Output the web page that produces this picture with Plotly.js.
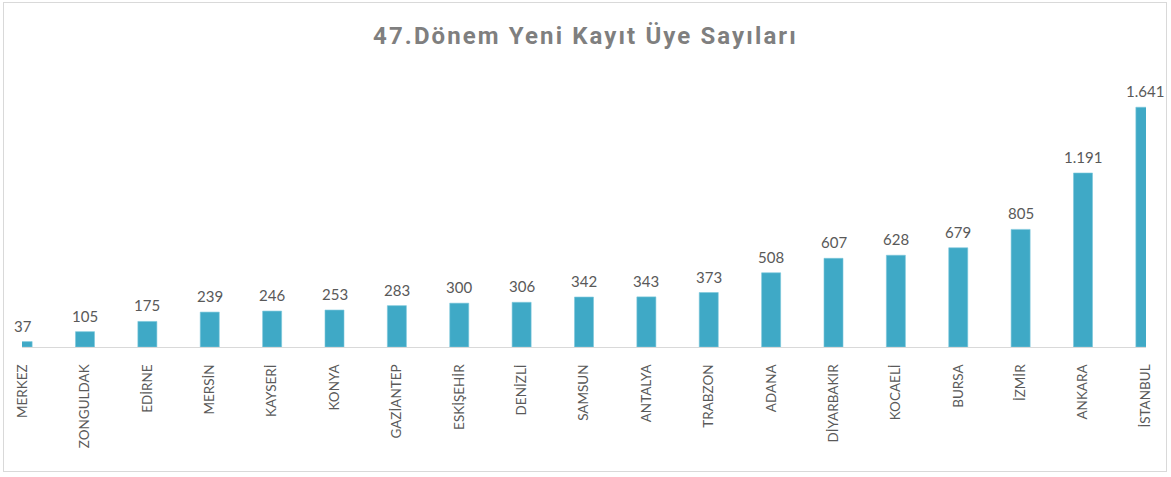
<!DOCTYPE html>
<html>
<head>
<meta charset="utf-8">
<script src="https://cdn.plot.ly/plotly-3.0.1.min.js"></script>
<style>
  html, body { margin: 0; padding: 0; background: #fff; }
  #wrap { position: relative; width: 1171px; height: 477px; }
  #frame { position: absolute; left: 3px; top: 2px; width: 1164px; height: 470px; border: 1px solid #d9d9d9; box-sizing: border-box; pointer-events: none; }
  #chart { width: 1171px; height: 477px; }
  .gtitle { letter-spacing: 2.1px; }
</style>
</head>
<body>
<div id="wrap">
  <div id="chart"></div>
  <div id="frame"></div>
</div>
<script>
const categories = ["MERKEZ", "ZONGULDAK", "EDİRNE", "MERSİN", "KAYSERİ", "KONYA", "GAZİANTEP", "ESKİŞEHİR", "DENİZLİ", "SAMSUN", "ANTALYA", "TRABZON", "ADANA", "DİYARBAKIR", "KOCAELİ", "BURSA", "İZMİR", "ANKARA", "İSTANBUL"];
const values = [37, 105, 175, 239, 246, 253, 283, 300, 306, 342, 343, 373, 508, 607, 628, 679, 805, 1191, 1641];
const titleText = "47.Dönem Yeni Kayıt Üye Sayıları";

const fmt = v => v.toString().replace(/\B(?=(\d{3})+(?!\d))/g, ".");

const trace = {
  type: "bar",
  x: categories,
  y: values,
  marker: { color: "#3fa9c6", line: { color: "#7cc8dc", width: 0.6 } },
  hoverinfo: "x+y"
};

const annotations = categories.map((c, i) => ({
  x: c,
  y: values[i],
  xref: "x",
  yref: "y",
  text: fmt(values[i]),
  showarrow: false,
  xanchor: "center",
  yanchor: "bottom",
  yshift: 5,
  font: { family: "Lato, 'Open Sans', sans-serif", size: 15, color: "#595959" }
}));

const layout = {
  width: 1171,
  height: 477,
  separators: ",.",
  paper_bgcolor: "#ffffff",
  plot_bgcolor: "#ffffff",
  margin: { l: 22, r: 25, t: 84, b: 130 },
  bargap: 0.695,
  showlegend: false,
  annotations: annotations,
  title: {
    text: "<b>" + titleText + "</b>",
    x: 0.5, xanchor: "center",
    y: 0.925, yanchor: "middle",
    font: { family: "Roboto, 'Liberation Sans', sans-serif", size: 24, color: "#7f7f7f" }
  },
  xaxis: {
    type: "category",
    range: [-0.01, 18.01],
    showline: true,
    linecolor: "#d9d9d9",
    linewidth: 1,
    ticks: "outside",
    ticklen: 11,
    tickcolor: "rgba(0,0,0,0)",
    tickangle: -90,
    tickfont: { family: "Lato, 'Open Sans', sans-serif", size: 13.5, color: "#595959" },
    showgrid: false,
    zeroline: false
  },
  yaxis: {
    range: [0, 1800],
    visible: false,
    showgrid: false,
    zeroline: false
  }
};

Plotly.newPlot("chart", [trace], layout, { displayModeBar: false, staticPlot: true });
</script>
</body>
</html>
